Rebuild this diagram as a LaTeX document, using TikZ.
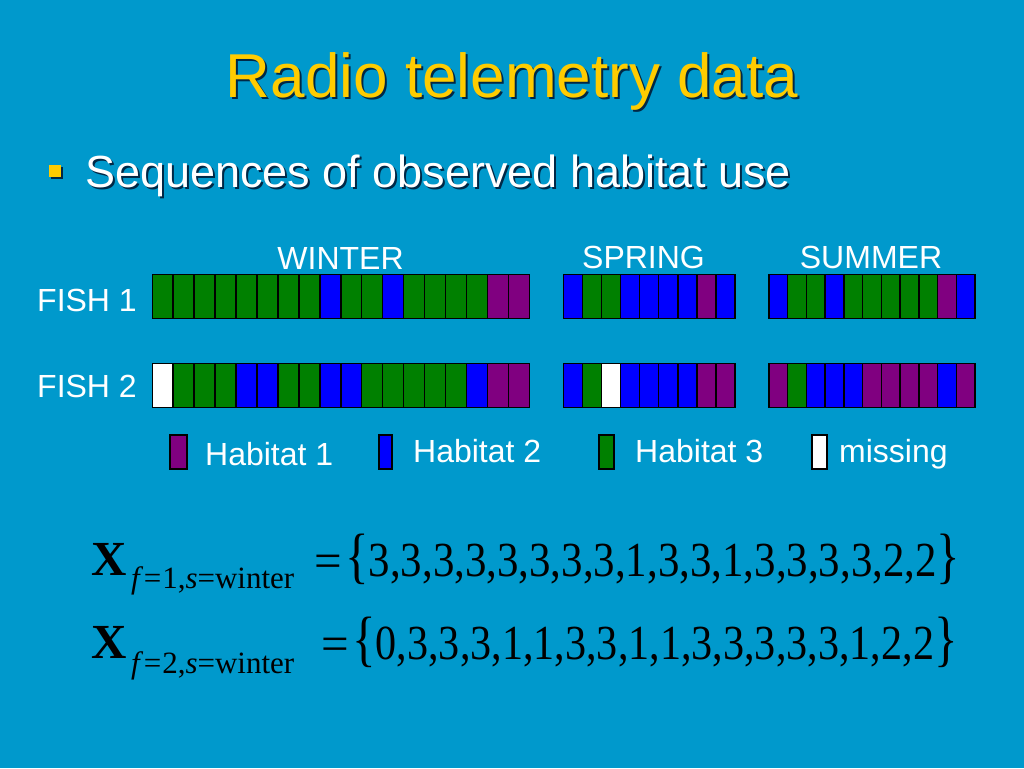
\documentclass[tikz,border=0pt]{standalone}
\usepackage{fontspec}
\usepackage{graphicx}
\setmainfont{Liberation Sans}
\newfontfamily\tnr{Liberation Serif}
\definecolor{bg}{RGB}{0,153,204}
\definecolor{titley}{RGB}{255,204,0}
\definecolor{shad}{RGB}{0,40,70}
\definecolor{h0}{RGB}{255,255,255}
\definecolor{h1}{RGB}{128,0,128}
\definecolor{h2}{RGB}{0,0,255}
\definecolor{h3}{RGB}{0,128,0}
\definecolor{edge}{RGB}{0,0,0}
\tikzset{
  lbl/.style={inner sep=0pt, text=white, font=\fontsize{32}{38}\selectfont},
  ttl/.style={inner sep=0pt, font=\fontsize{62}{70}\selectfont},
  bul/.style={inner sep=0pt, font=\fontsize{45}{52}\selectfont},
  mth/.style={inner sep=0pt, text=black, font=\tnr\fontsize{49}{56}\selectfont},
  msub/.style={inner sep=0pt, text=black, font=\tnr\fontsize{31}{36}\selectfont},
  cell/.style={draw=edge, line width=1.5pt},
  legbox/.style={draw=edge, line width=1.2pt}
}
\newcommand{\cellrow}[5]{% x0, y0, width, height, list
  \foreach \c [count=\i from 0] in {#5} {
    \fill[h\c] ({#1+\i*#3},#2) rectangle ++(#3,#4);
  }
  \foreach \c [count=\i from 0] in {#5} {
    \draw[cell] ({#1+\i*#3},#2) rectangle ++(#3,#4);
  }
}
\begin{document}
\begin{tikzpicture}[x=1pt,y=-1pt]
\useasboundingbox (0,0) rectangle (1024,768);
\fill[bg] (0,0) rectangle (1024,768);

% title
\node[ttl, text=shad, anchor=base] (titlesh) at (514,99) {Radio telemetry data};
\node[ttl, text=titley, anchor=base] (title) at (512,97) {Radio telemetry data};

% bullet
\fill[shad] (51,167) rectangle (63,179);
\fill[titley] (49,165) rectangle (61,177);
\node[bul, text=shad, anchor=base west] (bulsh) at (87,189) {Sequences of observed habitat use};
\node[bul, text=white, anchor=base west] (bullet) at (85,187) {Sequences of observed habitat use};

% season labels
\node[lbl, anchor=base] (winter) at (340.5,269) {WINTER};
\node[lbl, anchor=base] (spring) at (643.5,268) {SPRING};
\node[lbl, anchor=base] (summer) at (871,268) {SUMMER};
\node[lbl, anchor=base west] (fish1) at (37,311) {FISH 1};
\node[lbl, anchor=base west] (fish2) at (37,397) {FISH 2};

% fish 1
\cellrow{152.3}{274.3}{20.944}{44}{3,3,3,3,3,3,3,3,2,3,3,2,3,3,3,3,1,1}
\cellrow{563.3}{274.3}{19.08}{44}{2,3,3,2,2,2,2,1,2}
\cellrow{769}{274.3}{18.727}{44}{2,3,3,2,3,3,3,3,3,1,2}
% fish 2
\cellrow{152.3}{363.3}{20.944}{44}{0,3,3,3,2,2,3,3,2,2,3,3,3,3,3,2,1,1}
\cellrow{563.3}{363.3}{19.08}{44}{2,3,0,2,2,2,2,1,1}
\cellrow{769}{363.3}{18.727}{44}{1,3,2,2,2,1,1,1,1,2,1}

% legend
\filldraw[legbox, fill=h1] (170,435) rectangle (187,469);
\node[lbl, anchor=base west] (leg1) at (205,465) {Habitat 1};
\filldraw[legbox, fill=h2] (379,435) rectangle (392,469);
\node[lbl, anchor=base west] (leg2) at (413,462) {Habitat 2};
\filldraw[legbox, fill=h3] (599,435) rectangle (614,469);
\node[lbl, anchor=base west] (leg3) at (635,462) {Habitat 3};
\filldraw[legbox, fill=h0] (812,435) rectangle (827,469);
\node[lbl, anchor=base west] (leg0) at (839,462) {missing};

% equation 1
\node[mth, anchor=base west] (x1) at (91,575) {\bfseries X};
\node[msub, anchor=base west] (s1) at (131,588) {\itshape f\upshape\kern4pt=\kern1pt1,\itshape s\upshape=winter};
\node[mth, anchor=base west] (e1) at (314,577) {=};
\node[mth, anchor=base west] (b1) at (345,576) {\scalebox{1}[1.25]{\{}\scalebox{0.875}[1]{3,3,3,3,3,3,3,3,1,3,3,1,3,3,3,3,2,2}\scalebox{1}[1.25]{\}}};

% equation 2
\node[mth, anchor=base west] (x2) at (91,658) {\bfseries X};
\node[msub, anchor=base west] (s2) at (131,673) {\itshape f\upshape\kern4pt=\kern1pt2,\itshape s\upshape=winter};
\node[mth, anchor=base west] (e2) at (321,660) {=};
\node[mth, anchor=base west] (b2) at (352,659) {\scalebox{1}[1.25]{\{}\scalebox{0.86}[1]{0,3,3,3,1,1,3,3,1,1,3,3,3,3,3,1,2,2}\scalebox{1}[1.25]{\}}};
\end{tikzpicture}
\end{document}
